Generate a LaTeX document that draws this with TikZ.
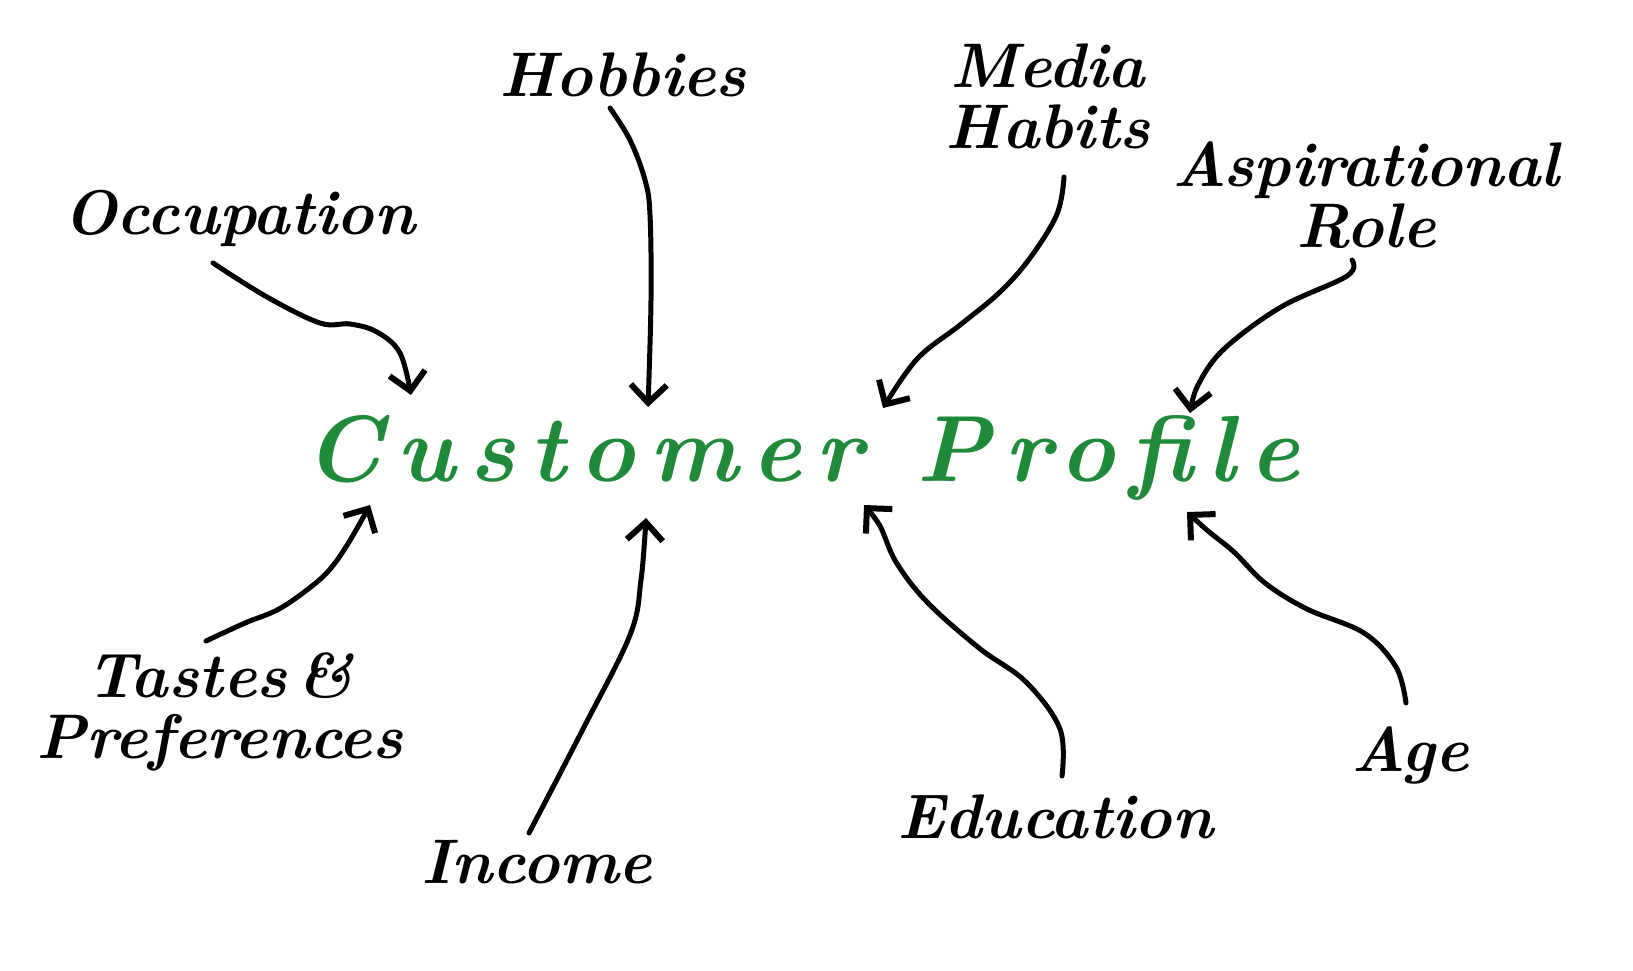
\documentclass[tikz,border=0pt]{standalone}
\usepackage{fontspec}
\usetikzlibrary{arrows.meta}
\newfontfamily\titlefont[LetterSpace=15]{Latin Modern Roman}
\definecolor{cpgreen}{RGB}{30,138,58}
\tikzset{
  lbl/.style={anchor=base, inner sep=0pt, align=center, text=black,
    font=\fontsize{63}{61}\selectfont\bfseries\itshape},
  ttl/.style={anchor=base, inner sep=0pt, text=cpgreen,
    font=\titlefont\fontsize{94}{100}\selectfont\bfseries\itshape},
  arr/.style={draw=black, line width=5pt, line cap=round, line join=round,
    -{Straight Barb[length=18pt,width=36pt,line width=6pt]}}
}
\begin{document}
\begin{tikzpicture}[x=1pt,y=-1pt]
\useasboundingbox[fill=white] (0,0) rectangle (1633,970);
% labels (multi-line nodes: base = baseline of last line)
\node[ttl] (title) at (802,481) {Customer Profile};
\node[lbl] (occ) at (239,234) {Occupation};
\node[lbl] (hob) at (623,96) {Hobbies};
\node[lbl] (med) at (1048,148) {Media\\Habits};
\node[lbl] (asp) at (1366,247) {Aspirational\\Role};
\node[lbl] (tas) at (220,758) {Tastes\,\&\\Preferences};
\node[lbl] (inc) at (537,883) {Income};
\node[lbl] (edu) at (1055,838) {Education};
\node[lbl] (age) at (1410,771) {Age};
% connector points
\coordinate (o0) at (213,263); \coordinate (o1) at (267,297); \coordinate (o2) at (320,323);
\coordinate (o3) at (350,324); \coordinate (o4) at (377,332); \coordinate (o5) at (400,353);
\coordinate (o6) at (411,395);
\coordinate (h0) at (610,108); \coordinate (h1) at (630,140); \coordinate (h2) at (645,180);
\coordinate (h3) at (650,215); \coordinate (h4) at (651,300); \coordinate (h5) at (648,407);
\coordinate (m0) at (1064,177); \coordinate (m1) at (1057,214); \coordinate (m2) at (1030,258);
\coordinate (m3) at (1000,292); \coordinate (m4) at (960,325); \coordinate (m5) at (917,359);
\coordinate (m6) at (883,408);
\coordinate (a0) at (1352,260); \coordinate (a1) at (1347,276); \coordinate (a2) at (1281,307);
\coordinate (a3) at (1224,349); \coordinate (a4) at (1198,385); \coordinate (a5) at (1190,413);
\coordinate (t0) at (206,641); \coordinate (t1) at (245,623); \coordinate (t2) at (279,609);
\coordinate (t3) at (312,586); \coordinate (t4) at (331,568); \coordinate (t5) at (349,542);
\coordinate (t6) at (370,505);
\coordinate (i0) at (529,833); \coordinate (i1) at (583,729); \coordinate (i2) at (630,635);
\coordinate (i3) at (641,580); \coordinate (i4) at (646,518);
\coordinate (e0) at (1062,776); \coordinate (e1) at (1060,729); \coordinate (e2) at (1026,682);
\coordinate (e3) at (979,648); \coordinate (e4) at (927,602); \coordinate (e5) at (896,562);
\coordinate (e6) at (880,526); \coordinate (e7) at (864,505);
\coordinate (g0) at (1406,703); \coordinate (g1) at (1396,667); \coordinate (g2) at (1364,633);
\coordinate (g3) at (1307,609); \coordinate (g4) at (1265,583); \coordinate (g5) at (1234,552);
\coordinate (g6) at (1208,531); \coordinate (g7) at (1187,512);
% connectors
\draw[arr] plot[smooth,tension=0.6] coordinates {(o0) (o1) (o2) (o3) (o4) (o5) (o6)};
\draw[arr] plot[smooth,tension=0.6] coordinates {(h0) (h1) (h2) (h3) (h4) (h5)};
\draw[arr] plot[smooth,tension=0.6] coordinates {(m0) (m1) (m2) (m3) (m4) (m5) (m6)};
\draw[arr] plot[smooth,tension=0.6] coordinates {(a0) (a1) (a2) (a3) (a4) (a5)};
\draw[arr] plot[smooth,tension=0.6] coordinates {(t0) (t1) (t2) (t3) (t4) (t5) (t6)};
\draw[arr] plot[smooth,tension=0.6] coordinates {(i0) (i1) (i2) (i3) (i4)};
\draw[arr] plot[smooth,tension=0.6] coordinates {(e0) (e1) (e2) (e3) (e4) (e5) (e6) (e7)};
\draw[arr] plot[smooth,tension=0.6] coordinates {(g0) (g1) (g2) (g3) (g4) (g5) (g6) (g7)};
\end{tikzpicture}
\end{document}
